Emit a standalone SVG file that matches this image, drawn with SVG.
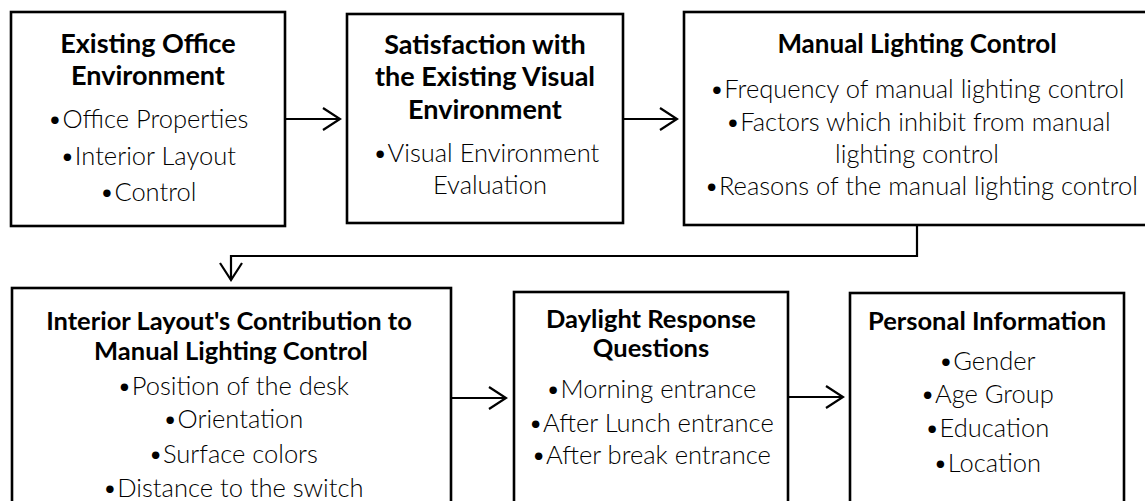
<svg xmlns="http://www.w3.org/2000/svg" width="1145" height="501" viewBox="0 0 1145 501">
  <defs>
    <marker id="chev" viewBox="0 0 20 24" refX="18" refY="12" markerWidth="20" markerHeight="24" markerUnits="userSpaceOnUse" orient="auto">
      <path d="M1,1 L18,12 L1,23" fill="none" stroke="#000" stroke-width="2.2"/>
    </marker>
    <style>
      .box { fill: #fff; stroke: #000; stroke-width: 2.6; }
      .title { font-family: Lato, "Liberation Sans", sans-serif; font-weight: 700; font-size: 27px; fill: #000; text-anchor: middle; }
      .title.md { font-size: 26px; }
      .title.sm { font-size: 25.5px; }
      .item { font-family: Lato, "Liberation Sans", sans-serif; font-weight: 300; font-size: 25.5px; fill: #000; text-anchor: middle; }
      .link { fill: none; stroke: #000; stroke-width: 2.2; marker-end: url(#chev); }
    </style>
  </defs>

  <!-- top row -->
  <g id="existing-office">
    <rect class="box" x="11" y="12" width="274" height="214"/>
    <text class="title" x="148" y="53">Existing Office</text>
    <text class="title" x="148" y="85">Environment</text>
    <text class="item" x="148" y="128">•Office Properties</text>
    <text class="item" x="148" y="165">•Interior Layout</text>
    <text class="item" x="148" y="201">•Control</text>
  </g>

  <g id="satisfaction">
    <rect class="box" x="347" y="14" width="276" height="209"/>
    <text class="title" x="485" y="54">Satisfaction with</text>
    <text class="title" x="485" y="86">the Existing Visual</text>
    <text class="title" x="485" y="119">Environment</text>
    <text class="item" x="486" y="162">•Visual Environment</text>
    <text class="item" x="490" y="194">Evaluation</text>
  </g>

  <g id="manual-control">
    <rect class="box" x="684" y="12" width="470" height="213"/>
    <text class="title md" x="917" y="53">Manual Lighting Control</text>
    <text class="item" x="917" y="98">•Frequency of manual lighting control</text>
    <text class="item" x="918" y="131">•Factors which inhibit from manual</text>
    <text class="item" x="917" y="163">lighting control</text>
    <text class="item" x="921" y="195">•Reasons of the manual lighting control</text>
  </g>

  <!-- bottom row -->
  <g id="interior-layout">
    <rect class="box" x="12" y="288" width="439" height="230"/>
    <text class="title sm" x="229" y="330">Interior Layout's Contribution to</text>
    <text class="title sm" x="231" y="360">Manual Lighting Control</text>
    <text class="item" x="233" y="395">•Position of the desk</text>
    <text class="item" x="233" y="428">•Orientation</text>
    <text class="item" x="233" y="463">•Surface colors</text>
    <text class="item" x="233" y="497">•Distance to the switch</text>
  </g>

  <g id="daylight-response">
    <rect class="box" x="514" y="292" width="274" height="226"/>
    <text class="title sm" x="651" y="328">Daylight Response</text>
    <text class="title sm" x="651" y="357">Questions</text>
    <text class="item" x="651" y="398">•Morning entrance</text>
    <text class="item" x="651" y="432">•After Lunch entrance</text>
    <text class="item" x="651" y="464">•After break entrance</text>
  </g>

  <g id="personal-info">
    <rect class="box" x="850" y="293" width="274" height="225"/>
    <text class="title sm" x="987" y="330">Personal Information</text>
    <text class="item" x="987" y="370">•Gender</text>
    <text class="item" x="987" y="403">•Age Group</text>
    <text class="item" x="987" y="437">•Education</text>
    <text class="item" x="987" y="472">•Location</text>
  </g>

  <!-- connectors -->
  <g id="connectors">
    <line class="link" x1="285" y1="119" x2="340" y2="119"/>
    <line class="link" x1="623" y1="119" x2="677" y2="119"/>
    <polyline class="link" points="917,225 917,256 231,256 231,280"/>
    <line class="link" x1="451" y1="398" x2="506" y2="398"/>
    <line class="link" x1="788" y1="397" x2="843" y2="397"/>
  </g>
</svg>
